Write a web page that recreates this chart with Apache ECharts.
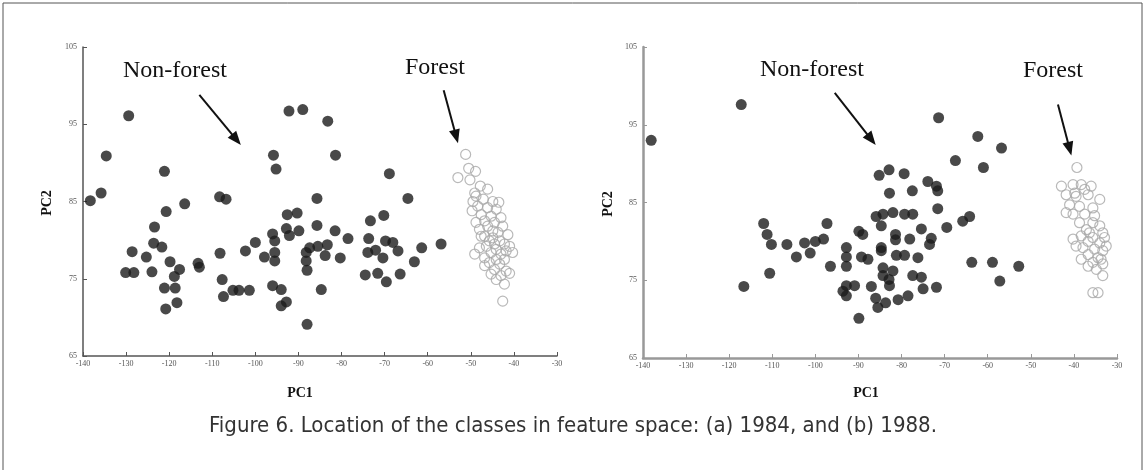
<!DOCTYPE html>
<html>
<head>
<meta charset="utf-8">
<script src="https://cdn.jsdelivr.net/npm/echarts@6/dist/echarts.min.js"></script>
<style>
  html, body { margin: 0; padding: 0; background: #fff; }
  #chart { width: 1146px; height: 470px; }
</style>
</head>
<body>
<div id="chart"></div>
<script>
// ---- tick labels ----
const xTicks = [-140, -130, -120, -110, -100, -90, -80, -70, -60, -50, -40, -30];
const yTicks = [65, 75, 85, 95, 105];

// ---- (a) 1984 ----
const nonForest1984 = [
  [-129.4, 96.1], [-134.6, 90.9], [-138.3, 85.1], [-135.8, 86.1], [-121.1, 88.9],
  [-116.4, 84.7], [-120.7, 83.7], [-123.4, 81.7], [-123.6, 79.6], [-121.7, 79.1],
  [-128.6, 78.5], [-125.3, 77.8], [-130.1, 75.8], [-128.2, 75.8], [-124.0, 75.9],
  [-119.8, 77.2], [-117.6, 76.2], [-118.8, 75.3], [-121.1, 73.8], [-118.6, 73.8],
  [-118.2, 71.9], [-120.8, 71.1], [-113.3, 77.0], [-113.0, 76.5], [-108.3, 85.6],
  [-106.8, 85.3], [-108.2, 78.3], [-107.7, 74.9], [-107.4, 72.7], [-105.2, 73.5],
  [-103.8, 73.5], [-101.4, 73.5], [-102.3, 78.6], [-100.0, 79.7], [-97.9, 77.8],
  [-95.8, 91.0], [-95.2, 89.2], [-92.2, 96.7], [-89.0, 96.9], [-83.2, 95.4],
  [-81.4, 91.0], [-96.0, 80.8], [-95.5, 79.9], [-95.5, 78.4], [-95.5, 77.3],
  [-96.0, 74.1], [-94.0, 73.6], [-94.0, 71.5], [-92.8, 72.0], [-92.8, 81.5],
  [-92.6, 83.3], [-90.3, 83.5], [-92.1, 80.6], [-89.9, 81.2], [-85.7, 85.4],
  [-85.7, 81.9], [-88.0, 69.1], [-88.2, 78.4], [-87.4, 79.0], [-85.5, 79.2],
  [-83.3, 79.4], [-88.2, 77.3], [-88.0, 76.1], [-83.8, 78.0], [-84.7, 73.6],
  [-81.5, 81.2], [-80.3, 77.7], [-78.5, 80.2], [-68.9, 88.6], [-64.6, 85.4],
  [-73.3, 82.5], [-70.2, 83.2], [-73.7, 80.2], [-73.9, 78.4], [-72.1, 78.7],
  [-69.8, 79.9], [-68.1, 79.7], [-66.9, 78.6], [-70.4, 77.7], [-74.5, 75.5],
  [-71.6, 75.7], [-69.6, 74.6], [-66.4, 75.6], [-63.1, 77.2], [-61.4, 79.0],
  [-56.9, 79.5]
];
const forest1984 = [
  [-51.2, 91.1], [-50.5, 89.3], [-48.9, 88.9], [-53.0, 88.1], [-50.2, 87.8],
  [-47.8, 87.0], [-49.1, 86.1], [-49.5, 85.0], [-47.1, 85.3], [-44.9, 85.0],
  [-43.5, 84.9], [-48.4, 84.4], [-46.1, 84.2], [-44.1, 84.0], [-49.7, 83.8],
  [-47.6, 83.3], [-45.3, 83.1], [-43.0, 82.9], [-46.8, 82.5], [-48.8, 82.3],
  [-44.5, 82.3], [-46.1, 81.8], [-42.6, 81.8], [-48.0, 81.4], [-44.9, 81.2],
  [-43.7, 81.0], [-41.4, 80.7], [-46.8, 80.5], [-45.7, 79.9], [-43.3, 79.9],
  [-44.5, 79.5], [-42.2, 79.5], [-46.4, 79.2], [-48.0, 79.0], [-44.1, 78.8],
  [-41.8, 78.6], [-45.3, 78.4], [-43.0, 78.2], [-40.3, 78.4], [-49.1, 78.2],
  [-46.8, 77.7], [-44.1, 77.5], [-42.2, 77.5], [-45.7, 77.1], [-43.3, 76.9],
  [-46.8, 76.7], [-44.5, 76.2], [-41.8, 76.0], [-45.3, 75.6], [-43.0, 75.4],
  [-41.0, 75.7], [-44.1, 74.9], [-42.2, 74.3], [-42.6, 72.1], [-48.8, 85.7],
  [-46.1, 86.6], [-47.6, 80.5], [-41.0, 79.2], [-44.9, 80.3]
];

// ---- (b) 1988 ----
const nonForest1988 = [
  [-138.1, 93.0], [-117.2, 97.6], [-112.0, 82.3], [-111.2, 80.9], [-110.2, 79.6],
  [-106.6, 79.6], [-104.4, 78.0], [-102.5, 79.8], [-101.2, 78.5], [-100.0, 80.0],
  [-98.1, 80.3], [-97.3, 82.3], [-110.6, 75.9], [-96.5, 76.8], [-116.6, 74.2],
  [-92.8, 79.2], [-92.8, 78.0], [-92.8, 76.8], [-89.9, 81.3], [-89.0, 80.9],
  [-92.8, 74.3], [-93.6, 73.6], [-92.8, 73.0], [-90.9, 74.3], [-89.9, 70.1],
  [-85.2, 88.5], [-82.9, 89.2], [-79.4, 88.7], [-73.9, 87.7], [-71.9, 87.1],
  [-71.6, 86.5], [-82.8, 86.2], [-77.5, 86.5], [-71.6, 84.2], [-71.4, 95.9],
  [-62.3, 93.5], [-56.8, 92.0], [-67.5, 90.4], [-61.0, 89.5], [-85.9, 83.2],
  [-84.3, 83.5], [-82.0, 83.7], [-79.3, 83.5], [-77.4, 83.5], [-84.7, 82.0],
  [-75.4, 81.6], [-69.5, 81.8], [-65.8, 82.6], [-64.2, 83.2], [-81.4, 80.9],
  [-81.4, 80.2], [-78.1, 80.3], [-73.1, 80.4], [-73.5, 79.6], [-84.7, 79.2],
  [-84.7, 78.8], [-89.3, 78.0], [-87.8, 77.7], [-81.2, 78.2], [-79.3, 78.2],
  [-76.2, 77.9], [-84.3, 76.6], [-82.0, 76.2], [-84.3, 75.6], [-77.4, 75.6],
  [-75.4, 75.4], [-87.0, 74.2], [-82.9, 75.1], [-82.8, 74.3], [-75.0, 73.9],
  [-71.9, 74.1], [-63.7, 77.3], [-58.9, 77.3], [-52.8, 76.8], [-57.2, 74.9],
  [-86.0, 72.7], [-83.7, 72.1], [-80.8, 72.5], [-78.5, 73.0], [-85.5, 71.5]
];
const forest1988 = [
  [-39.3, 89.5], [-40.2, 87.3], [-38.3, 87.3], [-41.8, 86.0], [-39.5, 85.8],
  [-36.7, 86.0], [-34.0, 85.4], [-41.0, 84.7], [-38.7, 84.5], [-35.6, 84.3],
  [-40.2, 83.5], [-37.5, 83.5], [-35.2, 83.3], [-35.6, 82.4], [-34.0, 82.0],
  [-37.1, 81.5], [-33.3, 81.1], [-38.3, 80.7], [-35.6, 80.5], [-40.2, 80.3],
  [-36.7, 80.0], [-34.0, 79.8], [-32.9, 80.5], [-37.9, 79.2], [-35.2, 79.0],
  [-33.3, 78.8], [-36.7, 78.3], [-34.4, 77.9], [-35.6, 77.3], [-33.3, 77.1],
  [-36.7, 76.8], [-34.8, 76.4], [-33.7, 77.7], [-32.5, 79.4], [-33.3, 75.6],
  [-35.6, 73.4], [-34.4, 73.4], [-39.8, 86.2], [-37.5, 86.7], [-41.8, 83.7],
  [-39.5, 79.4], [-38.3, 77.7], [-42.9, 87.1], [-36.0, 87.1], [-38.7, 82.4],
  [-36.4, 81.1]
];

// annotation arrows (data coordinates: [from, to])
const arrows1984 = [[[-113.0, 98.8], [-104.4, 93.0]], [[-56.3, 99.4], [-53.4, 93.4]]];
const arrows1988 = [[[-95.5, 99.1], [-87.0, 93.1]], [[-43.7, 97.6], [-41.0, 91.9]]];

const chart = echarts.init(document.getElementById('chart'), null, { renderer: 'canvas' });

function xAx(gi, lineColor, lineW) {
  return {
    gridIndex: gi, type: 'value', min: -140, max: -30, interval: 10,
    axisLine: { show: true, onZero: false, lineStyle: { color: lineColor, width: lineW } },
    axisTick: { show: true, inside: true, length: 4, lineStyle: { color: lineColor, width: 1 } },
    axisLabel: { fontFamily: 'Liberation Serif', fontSize: 8, color: '#555', margin: 4,
      formatter: v => xTicks.includes(v) ? String(v) : '' },
    splitLine: { show: false }
  };
}
function yAx(gi, lineColor, lineW) {
  return {
    gridIndex: gi, type: 'value', min: 65, max: 105, interval: 10,
    axisLine: { show: true, onZero: false, lineStyle: { color: lineColor, width: lineW } },
    axisTick: { show: true, inside: true, length: 4, lineStyle: { color: lineColor, width: 1 } },
    axisLabel: { fontFamily: 'Liberation Serif', fontSize: 8, color: '#555', margin: 6,
      formatter: v => yTicks.includes(v) ? String(v) : '' },
    splitLine: { show: false }
  };
}
function arrowLines(arr) {
  return {
    silent: true, symbol: ['none', 'triangle'], symbolSize: [11, 14],
    label: { show: false },
    lineStyle: { color: '#111', width: 2, type: 'solid' },
    data: arr.map(a => [{ coord: a[0] }, { coord: a[1] }])
  };
}
const darkStyle = { color: '#1c1c1c' };
const ringStyle = { color: 'rgba(255,255,255,0)', borderColor: '#a8a8a8', borderWidth: 1.2 };

const option = {
  backgroundColor: '#ffffff',
  animation: false,
  grid: [
    { left: 83, top: 47, width: 474, height: 309 },
    { left: 643, top: 47, width: 474, height: 311 }
  ],
  xAxis: [xAx(0, '#555', 1.5), xAx(1, '#999', 2.5)],
  yAxis: [yAx(0, '#555', 1.5), yAx(1, '#999', 2.5)],
  series: [
    { type: 'scatter', xAxisIndex: 0, yAxisIndex: 0, symbolSize: 11, itemStyle: darkStyle,
      data: nonForest1984, markLine: arrowLines(arrows1984) },
    { type: 'scatter', xAxisIndex: 0, yAxisIndex: 0, symbolSize: 10, itemStyle: ringStyle,
      data: forest1984 },
    { type: 'scatter', xAxisIndex: 1, yAxisIndex: 1, symbolSize: 11, itemStyle: darkStyle,
      data: nonForest1988, markLine: arrowLines(arrows1988) },
    { type: 'scatter', xAxisIndex: 1, yAxisIndex: 1, symbolSize: 10, itemStyle: ringStyle,
      data: forest1988 }
  ],
  graphic: [
    { type: 'rect', silent: true, shape: { x: 3, y: 3, width: 1139, height: 480 },
      style: { fill: 'none', stroke: '#555', lineWidth: 1 } },
    { type: 'text', left: 123, top: 59, style: { text: 'Non-forest', font: '24px "Liberation Serif"', fill: '#111' } },
    { type: 'text', left: 405, top: 56, style: { text: 'Forest', font: '24px "Liberation Serif"', fill: '#111' } },
    { type: 'text', left: 760, top: 58, style: { text: 'Non-forest', font: '24px "Liberation Serif"', fill: '#111' } },
    { type: 'text', left: 1023, top: 59, style: { text: 'Forest', font: '24px "Liberation Serif"', fill: '#111' } },
    { type: 'text', x: 300, y: 393, style: { text: 'PC1', font: 'bold 14px "Liberation Serif"', fill: '#111', align: 'center', verticalAlign: 'middle' } },
    { type: 'text', x: 866, y: 393, style: { text: 'PC1', font: 'bold 14px "Liberation Serif"', fill: '#111', align: 'center', verticalAlign: 'middle' } },
    { type: 'text', x: 47, y: 203, rotation: Math.PI / 2, style: { text: 'PC2', font: 'bold 14px "Liberation Serif"', fill: '#111', align: 'center', verticalAlign: 'middle' } },
    { type: 'text', x: 608, y: 204, rotation: Math.PI / 2, style: { text: 'PC2', font: 'bold 14px "Liberation Serif"', fill: '#111', align: 'center', verticalAlign: 'middle' } },
    { type: 'text', x: 573, y: 426, style: { text: 'Figure 6. Location of the classes in feature space: (a) 1984, and (b) 1988.',
      font: '22px "DejaVu Sans Condensed"', fill: '#333', align: 'center', verticalAlign: 'middle' } }
  ]
};
chart.setOption(option);
</script>
</body>
</html>
